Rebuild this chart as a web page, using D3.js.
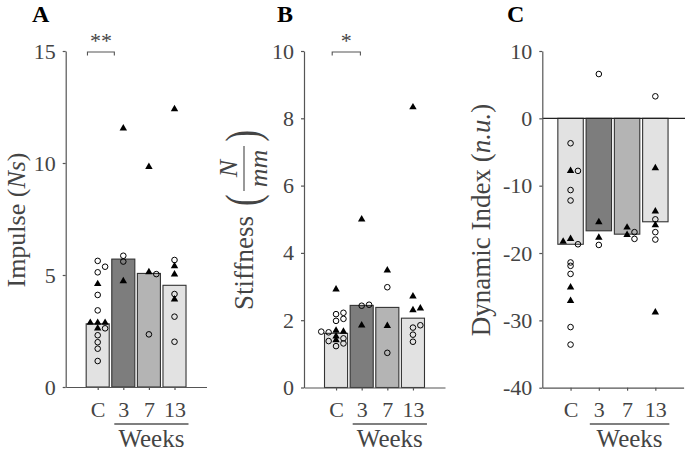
<!DOCTYPE html>
<html>
<head>
<meta charset="utf-8">
<script src="https://cdn.jsdelivr.net/npm/d3@7"></script>
<style>
  body { margin: 0; background: #fff; }
  svg text { font-family: "Liberation Serif", "DejaVu Serif", serif; }
</style>
</head>
<body>
<svg id="fig" width="685" height="451"></svg>
<script>
// ---- data ----
const categories = ["C", "3", "7", "13"];

// bar heights (group means)
const impulseBars = [2.82, 5.71, 5.07, 4.54];
const stiffnessBars = [1.61, 2.44, 2.38, 2.06];
const dynamicBars = [-18.7, -16.7, -17.2, -15.36];

// individual points: [group index, value, marker ("o" open circle / "t" filled triangle), swarm slot]
const impulsePoints = [
    [0, 5.63, "o", 0], [0, 5.37, "o", 1], [0, 5.12, "o", 0], [0, 4.60, "t", 0],
    [0, 4.11, "o", 0], [0, 3.42, "o", 0], [0, 2.87, "t", -1], [0, 2.87, "t", 0],
    [0, 2.87, "t", 1], [0, 2.62, "t", 0], [0, 2.62, "o", 1], [0, 2.31, "o", 0],
    [0, 2.00, "o", 0], [0, 1.71, "o", 0], [0, 1.16, "o", 0],
    [1, 11.55, "t", 0], [1, 5.86, "o", 0], [1, 5.60, "o", 0], [1, 4.73, "t", 0],
    [2, 9.83, "t", 0], [2, 5.13, "t", 0], [2, 5.04, "o", 1], [2, 2.35, "o", 0],
    [3, 12.41, "t", 0], [3, 5.67, "o", 0], [3, 5.40, "t", 0], [3, 5.03, "t", 0],
    [3, 4.15, "o", 0], [3, 3.91, "t", 0], [3, 3.14, "o", 0], [3, 2.02, "o", 0]
];

const stiffnessPoints = [
    [0, 2.92, "t", 0], [0, 2.18, "o", 0], [0, 2.22, "o", 1], [0, 1.98, "o", 0],
    [0, 2.04, "o", 1], [0, 1.66, "o", -2], [0, 1.64, "o", -1], [0, 1.69, "t", 0],
    [0, 1.66, "t", 1], [0, 1.52, "t", 0], [0, 1.41, "t", 0], [0, 1.38, "o", -1],
    [0, 1.46, "o", 1], [0, 1.31, "o", 1], [0, 1.23, "o", 0],
    [1, 5.00, "t", 0], [1, 2.43, "o", 0], [1, 2.46, "o", 1], [1, 1.85, "t", 0],
    [2, 3.48, "t", 0], [2, 2.98, "o", 0], [2, 1.83, "t", 0], [2, 1.03, "o", 0],
    [3, 8.33, "t", 0], [3, 2.71, "t", 0], [3, 2.30, "t", 0], [3, 2.35, "t", 1],
    [3, 1.85, "o", 1], [3, 1.78, "o", 0], [3, 1.57, "o", 0], [3, 1.36, "o", 0]
];

const dynamicPoints = [
    [0, -3.7, "o", 0], [0, -7.8, "t", 0], [0, -7.8, "o", 1], [0, -10.65, "o", 0],
    [0, -12.2, "o", 0], [0, -18.3, "t", -1], [0, -17.9, "t", 0], [0, -18.7, "o", 1],
    [0, -21.4, "o", 0], [0, -21.9, "o", 0], [0, -23.1, "o", 0], [0, -25.1, "t", 0],
    [0, -27.1, "t", 0], [0, -31.0, "o", 0], [0, -33.6, "o", 0],
    [1, 6.58, "o", 0], [1, -15.4, "t", 0], [1, -17.7, "t", 0], [1, -18.8, "o", 0],
    [2, -16.2, "t", 0], [2, -17.3, "t", 0], [2, -16.9, "o", 1], [2, -17.9, "o", 1],
    [3, 3.27, "o", 0], [3, -7.4, "t", 0], [3, -13.8, "t", 0], [3, -15.0, "o", 0],
    [3, -15.85, "t", 0], [3, -16.9, "o", 0], [3, -18.0, "o", 0], [3, -28.8, "t", 0]
];

const impulseTicks = [0, 5, 10, 15];
const stiffnessTicks = [0, 2, 4, 6, 8, 10];
const dynamicTicks = [-40, -30, -20, -10, 0, 10];

// ---- styling ----
const barFill = ["#e2e2e2", "#7d7d7d", "#b4b4b4", "#e2e2e2"];
const axisColor = "#555";
const textColor = "#444";
const serif = '"Liberation Serif", "DejaVu Serif", serif';

const svg = d3.select("#fig");

function drawPanel(p) {
    const x = d3.scaleLinear().domain(p.xDomain).range([p.left, p.right]);
    const y = d3.scaleLinear().domain(p.yDomain).range([p.bottom, p.top]);
    const g = svg.append("g");
    const bw = x(1.9) - x(1);

    g.selectAll("rect.bar")
        .data(p.bars)
        .join("rect")
        .attr("class", "bar")
        .attr("x", (d, i) => x(i + 1) - bw / 2)
        .attr("y", d => Math.min(y(d), y(0)))
        .attr("width", bw)
        .attr("height", d => Math.abs(y(d) - y(0)))
        .attr("fill", (d, i) => barFill[i])
        .attr("stroke", "#333")
        .attr("stroke-width", 1.1);

    if (p.zeroLine) {
        g.append("line")
            .attr("x1", p.left).attr("x2", 685)
            .attr("y1", y(0)).attr("y2", y(0))
            .attr("stroke", "#222").attr("stroke-width", 1.1);
    }

    // points
    const slotPx = 7.4;
    g.selectAll("circle.pt")
        .data(p.points.filter(d => d[2] === "o"))
        .join("circle")
        .attr("class", "pt")
        .attr("cx", d => x(d[0] + 1) + d[3] * slotPx)
        .attr("cy", d => y(d[1]))
        .attr("r", 2.8)
        .attr("fill", "none")
        .attr("stroke", "#000")
        .attr("stroke-width", 1);

    g.selectAll("path.tri")
        .data(p.points.filter(d => d[2] === "t"))
        .join("path")
        .attr("class", "tri")
        .attr("d", d3.symbol(d3.symbolTriangle, 24))
        .attr("transform", d => `translate(${x(d[0] + 1) + d[3] * slotPx},${y(d[1])})`)
        .attr("fill", "#000");

    // axes
    const yAxis = g.append("g")
        .attr("transform", `translate(${p.left},0)`)
        .call(d3.axisLeft(y).tickValues(p.yTicks).tickFormat(d => String(d))
            .tickSize(3).tickSizeOuter(0).tickPadding(7));
    const xAxis = g.append("g")
        .attr("transform", `translate(0,${p.bottom})`)
        .call(d3.axisBottom(x).tickValues([1, 2, 3, 4]).tickFormat(d => categories[d - 1])
            .tickSize(3).tickSizeOuter(0).tickPadding(11));
    [yAxis, xAxis].forEach(a => {
        a.attr("font-family", serif).attr("font-size", 22).attr("color", textColor);
        a.selectAll(".domain, .tick line").attr("stroke", axisColor).attr("stroke-width", 1.2);
    });

    // "Weeks" group annotation
    const wx1 = x(2) - 9, wx2 = x(4) + 14;
    g.append("line")
        .attr("x1", wx1).attr("x2", wx2)
        .attr("y1", 424).attr("y2", 424)
        .attr("stroke", axisColor).attr("stroke-width", 1.3);
    g.append("text")
        .attr("x", (wx1 + wx2) / 2).attr("y", 447)
        .attr("text-anchor", "middle")
        .attr("font-size", 25).attr("fill", textColor)
        .text("Weeks");

    // panel letter
    g.append("text")
        .attr("x", p.letterX).attr("y", 22)
        .attr("font-size", 24).attr("font-weight", "bold").attr("fill", "#000")
        .text(p.letter);

    // significance bracket
    if (p.bracket) {
        const [b1, b2, stars] = p.bracket;
        g.append("path")
            .attr("d", `M${x(b1)},55.5V52H${x(b2)}V55.5`)
            .attr("fill", "none").attr("stroke", axisColor).attr("stroke-width", 1.1);
        g.append("text")
            .attr("x", (x(b1) + x(b2)) / 2).attr("y", 48)
            .attr("text-anchor", "middle")
            .attr("font-size", 22).attr("fill", textColor)
            .text(stars);
    }

    p.yLabel(g);
}

drawPanel({
    left: 65.7, right: 206.5, top: 51, bottom: 387,
    xDomain: [-0.25, 5.25], yDomain: [0, 15], yTicks: impulseTicks,
    bars: impulseBars, points: impulsePoints,
    letter: "A", letterX: 32, bracket: [0.6, 1.65, "**"],
    yLabel: g => {
        const t = g.append("text")
            .attr("transform", "translate(25,220) rotate(-90)")
            .attr("text-anchor", "middle")
            .attr("font-size", 26).attr("fill", textColor);
        t.append("tspan").text("Impulse (");
        t.append("tspan").attr("font-style", "italic").text("Ns");
        t.append("tspan").text(")");
    }
});

drawPanel({
    left: 304, right: 445, top: 51, bottom: 387.5,
    xDomain: [-0.25, 5.25], yDomain: [0, 10], yTicks: stiffnessTicks,
    bars: stiffnessBars, points: stiffnessPoints,
    letter: "B", letterX: 277, bracket: [0.85, 1.95, "*"],
    yLabel: g => {
        const lg = g.append("g")
            .attr("transform", "translate(253,310) rotate(-90)")
            .attr("fill", textColor);
        lg.append("text").attr("x", 0).attr("y", 0).attr("font-size", 27).text("Stiffness");
        lg.append("text").attr("transform", "translate(104,6) scale(0.72,1)")
            .attr("font-size", 48).text("(");
        lg.append("text").attr("transform", "translate(180,6) scale(0.72,1)")
            .attr("text-anchor", "end").attr("font-size", 48).text(")");
        lg.append("text").attr("x", 141.5).attr("y", -16)
            .attr("text-anchor", "middle").attr("font-size", 26).attr("font-style", "italic").text("N");
        lg.append("line").attr("x1", 119).attr("x2", 164).attr("y1", -9).attr("y2", -9)
            .attr("stroke", textColor).attr("stroke-width", 1.1);
        lg.append("text").attr("x", 141.5).attr("y", 14)
            .attr("text-anchor", "middle").attr("font-size", 26).attr("font-style", "italic").text("mm");
    }
});

drawPanel({
    left: 542.3, right: 683.6, top: 51, bottom: 387.7,
    xDomain: [0, 5], yDomain: [-40, 10], yTicks: dynamicTicks,
    bars: dynamicBars, points: dynamicPoints, zeroLine: true,
    letter: "C", letterX: 507,
    yLabel: g => {
        const t = g.append("text")
            .attr("transform", "translate(490,220) rotate(-90)")
            .attr("text-anchor", "middle")
            .attr("font-size", 27).attr("fill", textColor);
        t.append("tspan").text("Dynamic Index (");
        t.append("tspan").attr("font-style", "italic").text("n.u.");
        t.append("tspan").text(")");
    }
});
</script>
</body>
</html>
